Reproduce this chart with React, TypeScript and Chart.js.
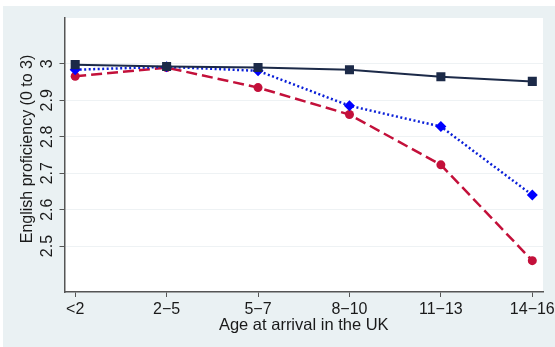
import React, { useEffect, useRef } from "react";
import { Chart, registerables } from "chart.js";

Chart.register(...registerables);

const categories = ["<2", "2−5", "5−7", "8−10", "11−13", "14−16"];
const yTicks = [2.5, 2.6, 2.7, 2.8, 2.9, 3.0];
const yTickLabels = ["2.5", "2.6", "2.7", "2.8", "2.9", "3"];
const seriesNavy = [2.998, 2.993, 2.99, 2.984, 2.965, 2.952];
const seriesBlue = [2.984, 2.992, 2.981, 2.885, 2.828, 2.64];
const seriesRed = [2.966, 2.99, 2.935, 2.861, 2.723, 2.46];
const xTitle = "Age at arrival in the UK";
const yTitle = "English proficiency (0 to 3)";

const BG = "#eaf1f3";
const TEXT = "#1a1a1a";
const FONT = "'Liberation Sans', Arial, sans-serif";

const bgPlugin = {
  id: "bgPlugin",
  beforeDraw(chart: any) {
    const { ctx, width, height, chartArea } = chart;
    ctx.save();
    ctx.fillStyle = "#ffffff";
    ctx.fillRect(0, 0, width, height);
    ctx.fillStyle = BG;
    ctx.fillRect(3, 6, width - 3, height - 6);
    ctx.fillStyle = "#ffffff";
    ctx.fillRect(chartArea.left, chartArea.top, chartArea.right - chartArea.left, chartArea.bottom - chartArea.top);
    ctx.restore();
  },
};

const textPlugin = {
  id: "textPlugin",
  afterDraw(chart: any) {
    const { ctx, chartArea } = chart;
    const xs = chart.scales.x;
    const ys = chart.scales.y;
    ctx.save();
    ctx.fillStyle = TEXT;
    // x tick labels
    ctx.font = `16px ${FONT}`;
    ctx.textAlign = "center";
    ctx.textBaseline = "alphabetic";
    categories.forEach((c, i) => {
      ctx.fillText(c, xs.getPixelForValue(i), chartArea.bottom + 21.5);
    });
    // x title
    ctx.font = `16.5px ${FONT}`;
    ctx.fillText(xTitle, (chartArea.left + chartArea.right) / 2, chartArea.bottom + 38);
    // y tick labels (rotated)
    ctx.font = `16px ${FONT}`;
    yTicks.forEach((v, i) => {
      ctx.save();
      ctx.translate(chartArea.left - 13, ys.getPixelForValue(v));
      ctx.rotate(-Math.PI / 2);
      ctx.textAlign = "center";
      ctx.textBaseline = "alphabetic";
      ctx.fillText(yTickLabels[i], 0, 0);
      ctx.restore();
    });
    // y title
    ctx.save();
    ctx.font = `16px ${FONT}`;
    ctx.translate(31.5, (chartArea.top + chartArea.bottom) / 2 - 6);
    ctx.rotate(-Math.PI / 2);
    ctx.textAlign = "center";
    ctx.textBaseline = "alphabetic";
    ctx.fillText(yTitle, 0, 0);
    ctx.restore();
    ctx.restore();
  },
};

export default function App() {
  const ref = useRef<HTMLCanvasElement>(null);
  useEffect(() => {
    document.body.style.margin = "0";
    const pts = (arr: number[]) => arr.map((v, i) => ({ x: i, y: v }));
    const chart = new Chart(ref.current!, {
      type: "line",
      data: {
        datasets: [
          {
            data: pts(seriesNavy),
            borderColor: "#1c2a48",
            backgroundColor: "#1c2a48",
            borderWidth: 2,
            pointStyle: "rect",
            pointRadius: 6.4,
            pointBorderWidth: 0,
          },
          {
            data: pts(seriesBlue),
            borderColor: "#0a1fd8",
            backgroundColor: "#0000ff",
            borderWidth: 2.5,
            borderDash: [2, 2.5],
            pointStyle: "rectRot",
            pointRadius: 5.5,
            pointBorderWidth: 0,
          },
          {
            data: pts(seriesRed),
            borderColor: "#c3103a",
            backgroundColor: "#c3103a",
            borderWidth: 2.5,
            borderDash: [11, 5],
            pointStyle: "circle",
            pointRadius: 4.5,
            pointBorderWidth: 0,
          },
        ],
      },
      options: {
        animation: false,
        responsive: false,
        devicePixelRatio: 1,
        layout: { padding: { top: 18, right: 12, left: 0, bottom: 0 } },
        plugins: { legend: { display: false }, tooltip: { enabled: false } },
        scales: {
          x: {
            type: "linear",
            min: -0.117,
            max: 5.117,
            afterBuildTicks: (s: any) => {
              s.ticks = categories.map((_, i) => ({ value: i }));
            },
            afterFit: (s: any) => {
              s.height = 55;
            },
            ticks: { display: false },
            grid: {
              drawOnChartArea: false,
              drawTicks: true,
              tickLength: 5,
              tickColor: "#555555",
            },
            border: { color: "#555555", width: 1.5 },
          },
          y: {
            min: 2.374,
            max: 3.126,
            afterBuildTicks: (s: any) => {
              s.ticks = yTicks.map((v) => ({ value: v }));
            },
            afterFit: (s: any) => {
              s.width = 64.5;
            },
            ticks: { display: false },
            grid: {
              color: "#eef2f4",
              lineWidth: 1,
              tickLength: 5,
              tickColor: "#555555",
            },
            border: { color: "#555555", width: 1.5 },
          },
        },
      },
      plugins: [bgPlugin, textPlugin],
    } as any);
    return () => chart.destroy();
  }, []);
  return <canvas ref={ref} width={555} height={347} style={{ display: "block" }} />;
}
